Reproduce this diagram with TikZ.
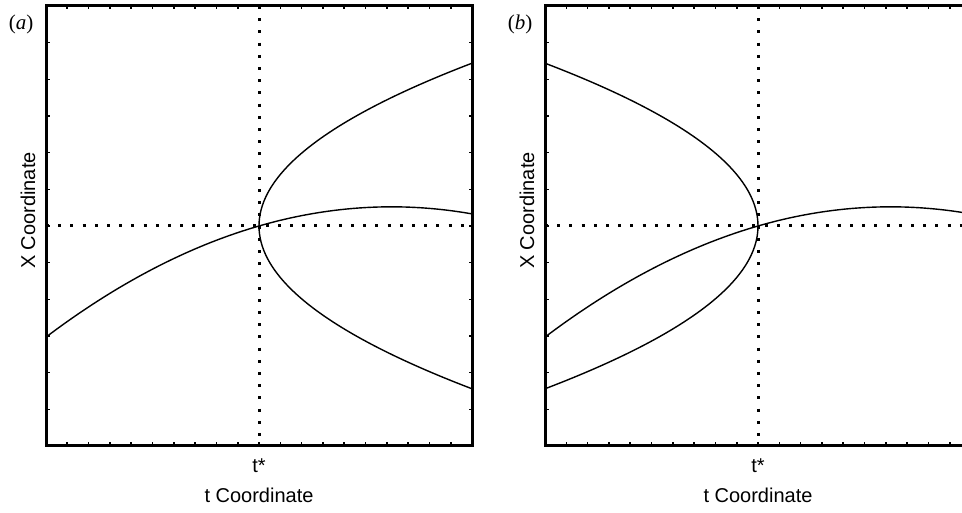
\documentclass[tikz,border=0pt]{standalone}
\usepackage{fontspec}
\setmainfont{Liberation Serif}
\setsansfont{Liberation Sans}
\usetikzlibrary{positioning}

\tikzset{
  frame/.style={line width=3pt},
  ticker/.style={line width=1.6pt},
  branch/.style={line width=1.4pt},
  guide/.style={line width=3pt, dash pattern=on 3pt off 9.2pt},
  axisname/.style={font=\sffamily\fontsize{20}{20}\selectfont, inner sep=0pt},
  paneltag/.style={font=\fontsize{21}{21}\selectfont, inner sep=0pt},
}

\begin{document}
\begin{tikzpicture}
  \useasboundingbox (0,0) rectangle (962pt,513pt);

  % ============ LEFT PANEL: SUPERCRITICAL ============
  \begin{scope}[shift={(259pt,287pt)}, x=213pt, y=220pt]
    \draw[frame] (-1,-1) rectangle (1,1);
    % ticks: 12 steps up the sides, 20 along top and bottom
    \foreach \k in {1,...,11} {
      \draw[ticker] (-1,-1+\k/6) -- ++(3.5pt,0);
      \draw[ticker] (1,-1+\k/6) -- ++(-3.5pt,0);
    }
    \foreach \k in {1,...,19} {
      \draw[ticker] (-1+\k/10,-1) -- ++(0,3.5pt);
      \draw[ticker] (-1+\k/10,1) -- ++(0,-3.5pt);
    }
    \draw[guide] (0,1) -- (0,-1);
    \draw[guide] (-1,0) -- (1,0);
    % fork opens to the right of t*
    \draw[branch] plot[domain=-1:1, samples=81, smooth] ({\x*\x}, {0.74*\x});
    \draw[branch] plot[domain=-1:1, samples=41, smooth] (\x, {0.28*\x-0.225*\x*\x});
    \node[axisname] (tstarA) at (0,-1.09) {t*};
    \node[axisname] (tnameA) at (0,-1.225) {t Coordinate};
    \node[axisname, rotate=90] (xnameA) at (-1.085,0.07) {X Coordinate};
    \node[paneltag] (tagA) at (-1.117,0.915) {(\textit{a})};
  \end{scope}

  % ============ RIGHT PANEL: SUBCRITICAL ============
  \begin{scope}[shift={(758pt,287pt)}, x=213pt, y=220pt]
    \draw[frame] (-1,-1) rectangle (1,1);
    \foreach \k in {1,...,11} {
      \draw[ticker] (-1,-1+\k/6) -- ++(3.5pt,0);
      \draw[ticker] (1,-1+\k/6) -- ++(-3.5pt,0);
    }
    \foreach \k in {1,...,19} {
      \draw[ticker] (-1+\k/10,-1) -- ++(0,3.5pt);
      \draw[ticker] (-1+\k/10,1) -- ++(0,-3.5pt);
    }
    \draw[guide] (0,1) -- (0,-1);
    \draw[guide] (-1,0) -- (1,0);
    % fork opens to the left of t*
    \draw[branch] plot[domain=-1:1, samples=81, smooth] ({-\x*\x}, {0.74*\x});
    \draw[branch] plot[domain=-1:1, samples=41, smooth] (\x, {0.28*\x-0.225*\x*\x});
    \node[axisname] (tstarB) at (0,-1.09) {t*};
    \node[axisname] (tnameB) at (0,-1.225) {t Coordinate};
    \node[axisname, rotate=90] (xnameB) at (-1.085,0.07) {X Coordinate};
    \node[paneltag] (tagB) at (-1.117,0.915) {(\textit{b})};
  \end{scope}
\end{tikzpicture}
\end{document}
